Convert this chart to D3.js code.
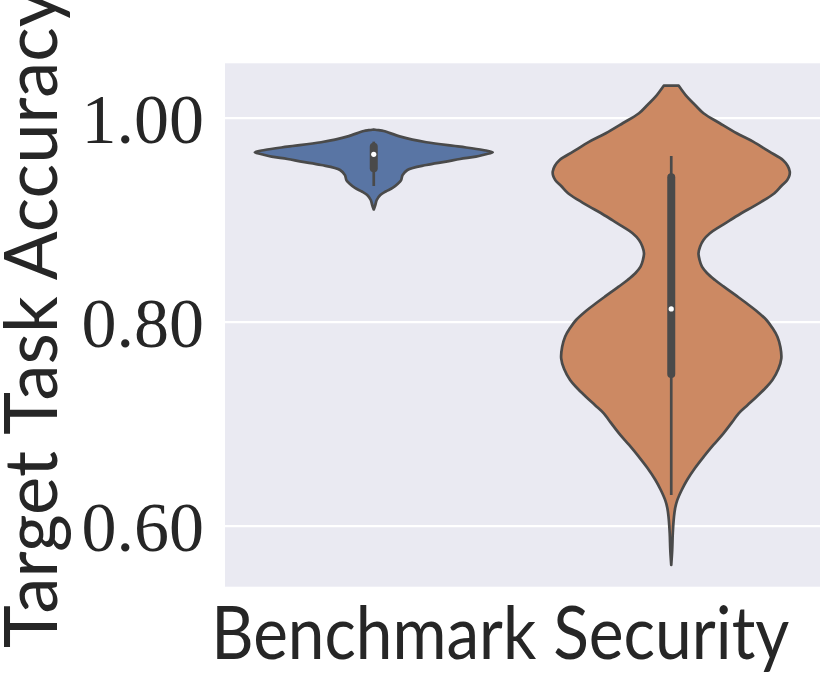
<!DOCTYPE html>
<html>
<head>
<meta charset="utf-8">
<script src="https://cdn.jsdelivr.net/npm/d3@7"></script>
<style>
  html, body { margin: 0; padding: 0; background: #ffffff; }
  svg { display: block; }
</style>
</head>
<body>
<svg id="chart" width="830" height="692"></svg>
<script>
// ---------------- data ----------------
const categories = ["Benchmark", "Security"];
const yTicks = [0.60, 0.80, 1.00];
const yTickLabels = ["0.60", "0.80", "1.00"];
const yLabel = "Target Task Accuracy";

// violin profile: accuracy values and relative density (1 = widest)
const benchmarkValues = [0.98843, 0.98775, 0.98696, 0.98137, 0.97588, 0.97157, 0.96833, 0.96608,
  0.96392, 0.96176, 0.95951, 0.95686, 0.95363, 0.94873, 0.94363, 0.93853, 0.93500, 0.93108,
  0.92765, 0.92422, 0.91931, 0.91441, 0.91000];
const benchmarkDensity = [0.000, 0.042, 0.083, 0.225, 0.442, 0.725, 0.917, 1.000,
  0.933, 0.858, 0.725, 0.608, 0.442, 0.283, 0.242, 0.229, 0.200, 0.158,
  0.100, 0.055, 0.025, 0.013, 0.000];

const securityValues = [1.03137, 1.02059, 1.01245, 1.00431, 0.99451, 0.98471, 0.97647, 0.96667,
  0.95853, 0.95265, 0.94706, 0.94284, 0.93892, 0.93304, 0.92588, 0.91931, 0.91275, 0.90657,
  0.89931, 0.89314, 0.88667, 0.88010, 0.87353, 0.86706, 0.86049, 0.85392, 0.84775, 0.84088,
  0.83431, 0.82451, 0.81804, 0.81049, 0.80167, 0.79382, 0.78529, 0.77520, 0.76412, 0.75363,
  0.74284, 0.73500, 0.72647, 0.71833, 0.71020, 0.70363, 0.69059, 0.67912, 0.66765, 0.65657,
  0.64480, 0.63500, 0.62480, 0.61735, 0.60882, 0.59284, 0.57618, 0.56147];
const securityDensity = [0.063, 0.132, 0.200, 0.271, 0.408, 0.550, 0.688, 0.825,
  0.938, 0.979, 0.996, 0.992, 0.975, 0.925, 0.867, 0.783, 0.688, 0.592,
  0.492, 0.408, 0.325, 0.271, 0.242, 0.229, 0.238, 0.258, 0.300, 0.367,
  0.442, 0.558, 0.633, 0.717, 0.800, 0.850, 0.892, 0.917, 0.925, 0.900,
  0.850, 0.792, 0.717, 0.642, 0.567, 0.525, 0.439, 0.354, 0.273, 0.200,
  0.133, 0.088, 0.050, 0.033, 0.023, 0.013, 0.008, 0.000];

// inner box: [lower whisker, q1, median, q3, upper whisker]
const benchmarkBox = [0.933, 0.9504, 0.9641, 0.9716, 0.9765];
const securityBox = [0.630, 0.7487, 0.8125, 0.9416, 0.9625];

const violinColors = ["#5975a4", "#cc8963"];

// ---------------- layout ----------------
const plot = { left: 225, right: 820, top: 63.3, bottom: 586.7 };
const svg = d3.select("#chart");

const x = d3.scaleBand().domain(categories).range([plot.left, plot.right]).padding(0);
const y = d3.scaleLinear().domain([0.5402, 1.0533]).range([plot.bottom, plot.top]);
const halfW = d3.scaleLinear().domain([0, 1]).range([0, x.bandwidth() * 0.4]);

// background
svg.append("rect")
  .attr("x", plot.left).attr("y", plot.top)
  .attr("width", plot.right - plot.left).attr("height", plot.bottom - plot.top)
  .attr("fill", "#eaeaf2");

// horizontal gridlines
const yAxis = d3.axisLeft(y).tickValues(yTicks)
  .tickSize(-(plot.right - plot.left)).tickFormat("");
const ga = svg.append("g").attr("transform", `translate(${plot.left},0)`).call(yAxis);
ga.select(".domain").remove();
ga.selectAll(".tick line").attr("stroke", "#ffffff").attr("stroke-width", 2.2);

// tick labels
svg.append("g").selectAll("text").data(yTicks).join("text")
  .attr("x", 204)
  .attr("y", d => y(d) + 25)
  .attr("text-anchor", "end")
  .attr("font-family", "'Liberation Serif', 'DejaVu Serif', serif")
  .attr("font-size", 70)
  .attr("fill", "#262626")
  .text((d, i) => yTickLabels[i]);

// violins
const series = [
  { name: categories[0], values: benchmarkValues, dens: benchmarkDensity, box: benchmarkBox },
  { name: categories[1], values: securityValues, dens: securityDensity, box: securityBox }
];
const gray = "#4a4a4a";

series.forEach((s, i) => {
  const cx = x(s.name) + x.bandwidth() / 2;
  const pts = s.values.map((v, k) => ({ v, d: s.dens[k] }));
  const area = d3.area()
    .y(p => y(p.v))
    .x0(p => cx - halfW(p.d))
    .x1(p => cx + halfW(p.d))
    .curve(d3.curveCatmullRom.alpha(0.5));
  svg.append("path")
    .attr("d", area(pts))
    .attr("fill", violinColors[i])
    .attr("stroke", gray)
    .attr("stroke-width", 2.7)
    .attr("stroke-linejoin", "round");

  const [lo, q1, med, q3, hi] = s.box;
  svg.append("line")
    .attr("x1", cx).attr("x2", cx)
    .attr("y1", y(lo)).attr("y2", y(hi))
    .attr("stroke", gray).attr("stroke-width", 2.7);
  svg.append("line")
    .attr("x1", cx).attr("x2", cx)
    .attr("y1", y(q1)).attr("y2", y(q3))
    .attr("stroke", gray).attr("stroke-width", 8)
    .attr("stroke-linecap", "round");
  svg.append("circle")
    .attr("cx", cx).attr("cy", y(med)).attr("r", 2.6)
    .attr("fill", "#ffffff");
});

// x category labels
const xLabelLen = { "Benchmark": 325, "Security": 236 };
svg.append("g").selectAll("text").data(categories).join("text")
  .attr("x", d => x(d) + x.bandwidth() / 2)
  .attr("y", 659.3)
  .attr("text-anchor", "middle")
  .attr("font-family", "Lato, 'Open Sans', sans-serif")
  .attr("font-size", 73)
  .attr("fill", "#262626")
  .attr("textLength", d => xLabelLen[d])
  .attr("lengthAdjust", "spacingAndGlyphs")
  .text(d => d);

// y axis title (clipped at the top edge, as in the reference)
svg.append("text")
  .attr("transform", "translate(57,648) rotate(-90)")
  .attr("x", 0).attr("y", 0)
  .attr("text-anchor", "start")
  .attr("font-family", "Lato, 'Open Sans', sans-serif")
  .attr("font-size", 73)
  .attr("fill", "#262626")
  .attr("textLength", 658)
  .attr("lengthAdjust", "spacingAndGlyphs")
  .text(yLabel);
</script>
</body>
</html>
